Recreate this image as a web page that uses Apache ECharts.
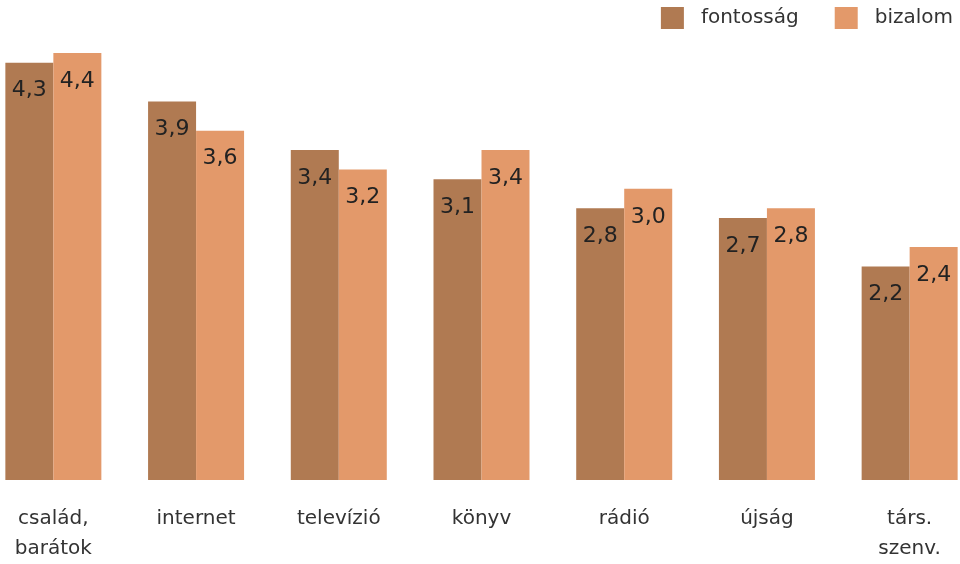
<!DOCTYPE html>
<html>
<head>
<meta charset="utf-8">
<script src="https://cdn.jsdelivr.net/npm/echarts@6/dist/echarts.min.js"></script>
<style>html,body{margin:0;padding:0;background:#fff;overflow:hidden}#wrap{width:960px;height:564px;overflow:hidden;position:relative}#c{width:999px;height:564px;position:absolute;left:-18px;top:0}</style>
</head>
<body>
<div id="wrap"><div id="c"></div></div>
<script>
const categories = ['család,\nbarátok', 'internet', 'televízió', 'könyv', 'rádió', 'újság', 'társ.\nszenv.'];
const seriesNames = ['fontosság', 'bizalom'];
const fontossag = [4.3, 3.9, 3.4, 3.1, 2.8, 2.7, 2.2];
const bizalom = [4.4, 3.6, 3.2, 3.4, 3.0, 2.8, 2.4];

const colors = ['#b07a52', '#e3996a'];
const fontFamily = '"DejaVu Sans", "Noto Sans", sans-serif';

const chart = echarts.init(document.getElementById('c'), null, {renderer: 'canvas'});
const label = {
  show: true,
  position: 'insideTop',
  distance: 17,
  fontSize: 22,
  fontFamily: fontFamily,
  color: '#222222',
  formatter: p => p.value.toFixed(1).replace('.', ',')
};
chart.setOption({
  animation: false,
  backgroundColor: '#ffffff',
  textStyle: {fontFamily: fontFamily},
  legend: {
    right: 23, top: 2,
    itemWidth: 23, itemHeight: 22, itemGap: 36,
    icon: 'rect',
    textStyle: {fontSize: 20, color: '#333333', fontFamily: fontFamily, padding: [0, 0, 0, 12]},
    data: seriesNames
  },
  grid: {left: 0, right: 0, top: 53, bottom: 81, containLabel: false},
  xAxis: {
    type: 'category',
    data: categories,
    axisLine: {show: false},
    axisTick: {show: false},
    axisLabel: {fontSize: 20, lineHeight: 30, color: '#333333', margin: 24, fontFamily: fontFamily, interval: 0}
  },
  yAxis: {
    type: 'value', min: 0, max: 4.4, show: false,
    splitLine: {show: false}
  },
  series: [
    {name: seriesNames[0], type: 'bar', data: fontossag, barWidth: 48, barGap: '0%', itemStyle: {color: colors[0]}, label: label},
    {name: seriesNames[1], type: 'bar', data: bizalom, barWidth: 48, barGap: '0%', itemStyle: {color: colors[1]}, label: label}
  ]
});
</script>
</body>
</html>
